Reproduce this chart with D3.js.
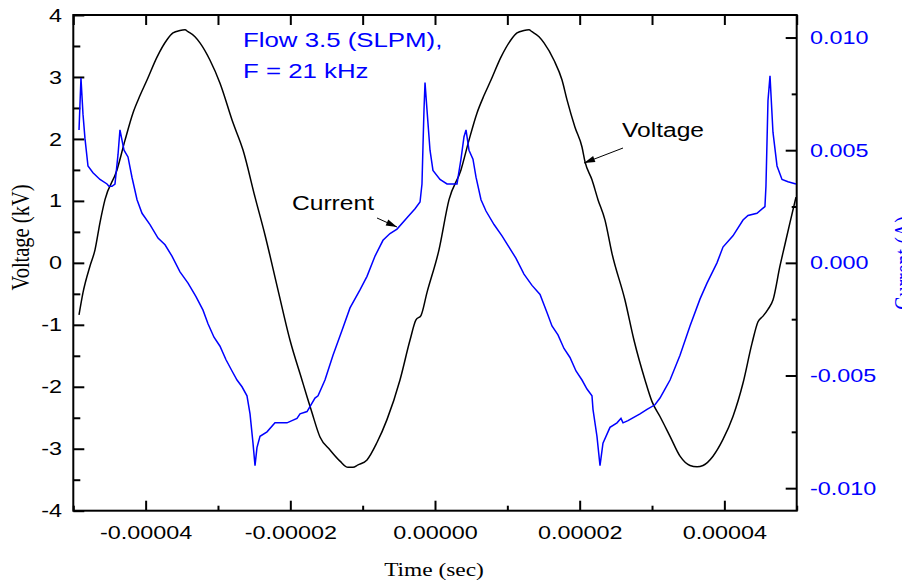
<!DOCTYPE html>
<html>
<head>
<meta charset="utf-8">
<script src="https://cdn.jsdelivr.net/npm/d3@7"></script>
<style>
  body { margin: 0; background: #fff; }
  svg { display: block; }
</style>
</head>
<body>
<svg id="chart" width="902" height="584"></svg>
<script>
// ---- data (time in microseconds) ----
var voltTimeUs = [-49.21, -48.66, -47.69, -47.00, -46.31, -45.62, -43.96, -42.85, -41.75, -40.78,
  -39.81, -38.43, -37.05, -36.22, -35.25, -34.56, -34.14, -33.18, -32.49, -31.10,
  -29.72, -27.92, -26.54, -24.88, -23.50, -21.70, -20.04, -18.39, -17.69, -17.00,
  -15.90, -14.51, -13.13, -12.03, -11.34, -10.64, -9.40, -8.02, -6.64, -4.84,
  -3.46, -2.63, -1.94, -1.11, 0.55, 1.94, 3.59, 4.70, 5.81, 6.77,
  7.74, 9.12, 10.51, 11.34, 12.30, 12.99, 13.41, 14.38, 15.07, 16.45,
  17.56, 18.25, 19.35, 20.32, 20.74, 21.70, 22.53, 23.50, 24.47, 26.26,
  27.51, 29.03, 30.00, 31.10, 32.49, 33.87, 35.25, 36.22, 37.05, 38.43,
  39.81, 41.19, 42.58, 43.82, 44.65, 45.34, 46.03, 46.72, 47.69, 48.38,
  49.07, 49.90];
var voltKV = [-0.84, -0.48, -0.05, 0.21, 0.65, 1.02, 1.50, 1.98, 2.42, 2.70,
  2.95, 3.32, 3.60, 3.71, 3.75, 3.76, 3.73, 3.65, 3.55, 3.27,
  2.90, 2.26, 1.82, 1.06, 0.45, -0.44, -1.25, -1.89, -2.16, -2.42,
  -2.81, -3.02, -3.20, -3.30, -3.30, -3.26, -3.18, -2.90, -2.53, -1.89,
  -1.25, -0.92, -0.85, -0.48, 0.21, 1.02, 1.50, 1.98, 2.42, 2.70,
  2.95, 3.32, 3.60, 3.71, 3.75, 3.76, 3.73, 3.65, 3.55, 3.27,
  2.95, 2.63, 2.19, 1.87, 1.63, 1.34, 1.02, 0.69, 0.15, -0.60,
  -1.25, -1.89, -2.24, -2.48, -2.80, -3.12, -3.27, -3.29, -3.27, -3.12,
  -2.85, -2.48, -1.94, -1.30, -0.95, -0.86, -0.75, -0.60, -0.05, 0.30,
  0.65, 1.06];

var currTimeUs = [-49.21, -49.07, -48.94, -48.66, -48.38, -47.97, -47.28, -46.31, -45.34, -45.07,
  -44.65, -44.24, -43.82, -43.55, -42.99, -42.44, -41.89, -41.19, -40.50, -39.40,
  -38.29, -37.32, -36.36, -35.25, -34.14, -33.04, -32.07, -31.38, -30.55, -29.72,
  -28.89, -28.06, -27.37, -26.68, -25.99, -25.57, -25.16, -24.88, -24.61, -24.19,
  -23.22, -22.12, -21.43, -20.46, -19.77, -19.08, -18.66, -17.69, -16.59, -16.17,
  -15.21, -14.10, -12.86, -11.75, -10.37, -9.40, -8.29, -7.19, -6.22, -5.25,
  -3.87, -2.76, -2.07, -1.80, -1.66, -1.52, -1.38, -1.11, -0.69, -0.28,
  0.69, 1.66, 2.49, 3.04, 3.59, 4.01, 4.29, 4.70, 5.25, 5.67,
  6.36, 7.05, 8.16, 9.26, 10.23, 11.20, 12.30, 13.41, 14.52, 15.48,
  16.17, 17.00, 17.83, 18.66, 19.49, 20.32, 21.01, 21.70, 21.84, 22.39,
  22.81, 23.22, 24.19, 25.16, 25.71, 25.99, 26.68, 27.23, 28.34, 29.31,
  30.41, 31.10, 31.79, 32.49, 33.87, 35.25, 36.64, 37.60, 38.98, 39.81,
  41.19, 42.58, 43.27, 44.51, 45.61, 45.75, 46.03, 46.31, 46.72, 47.28,
  47.97, 48.80, 49.90];
var currA = [0.0059, 0.0071, 0.0082, 0.0066, 0.0055, 0.0043, 0.0040, 0.0037, 0.0035, 0.0034,
  0.0034, 0.0035, 0.0048, 0.0059, 0.0050, 0.0047, 0.0038, 0.0028, 0.0022, 0.0017,
  0.0011, 0.0008, 0.0003, -0.0004, -0.0009, -0.0015, -0.0021, -0.0027, -0.0033, -0.0037,
  -0.0043, -0.0048, -0.0052, -0.0055, -0.0059, -0.0067, -0.0080, -0.0090, -0.0082, -0.0077,
  -0.0075, -0.0071, -0.0071, -0.0071, -0.0070, -0.0069, -0.0067, -0.0066, -0.0060, -0.0059,
  -0.0052, -0.0041, -0.0030, -0.0020, -0.0012, -0.0006, 0.0003, 0.0010, 0.0013, 0.0015,
  0.0020, 0.0024, 0.0027, 0.0035, 0.0052, 0.0068, 0.0080, 0.0068, 0.0050, 0.0041,
  0.0037, 0.0035, 0.0035, 0.0035, 0.0046, 0.0056, 0.0059, 0.0050, 0.0046, 0.0038,
  0.0028, 0.0023, 0.0017, 0.0012, 0.0007, 0.0002, -0.0005, -0.0010, -0.0014, -0.0022,
  -0.0028, -0.0032, -0.0038, -0.0042, -0.0048, -0.0052, -0.0056, -0.0059, -0.0065, -0.0077,
  -0.0090, -0.0080, -0.0073, -0.0071, -0.0069, -0.0071, -0.0070, -0.0069, -0.0067, -0.0065,
  -0.0063, -0.0060, -0.0056, -0.0052, -0.0041, -0.0028, -0.0016, -0.0009, 0.0000, 0.0007,
  0.0012, 0.0019, 0.0021, 0.0022, 0.0025, 0.0034, 0.0072, 0.0083, 0.0058, 0.0043,
  0.0037, 0.0036, 0.0035];

var timeTicks = [-0.00004, -0.00002, 0, 0.00002, 0.00004];
var timeTickLabels = ["-0.00004", "-0.00002", "0.00000", "0.00002", "0.00004"];
var voltTicks = [-4, -3, -2, -1, 0, 1, 2, 3, 4];
var voltTickLabels = ["-4", "-3", "-2", "-1", "0", "1", "2", "3", "4"];
var currTicks = [-0.010, -0.005, 0, 0.005, 0.010];
var currTickLabels = ["-0.010", "-0.005", "0.000", "0.005", "0.010"];
var titleLines = ["Flow 3.5 (SLPM),", "F = 21 kHz"];

(function() {
// ---- layout ----
var svg = d3.select("#chart");
var pLeft = 73.3, pRight = 796.7, pTop = 15, pBottom = 510.7;
var SX = 1.23;   // the picture's text is a bit wide
var sans = "Arial, 'Liberation Sans', sans-serif";
var serif = "'Times New Roman', 'Liberation Serif', serif";
var blue = "#0000ff";

var x = d3.scaleLinear().domain([-5e-5, 5e-5]).range([pLeft, pRight]);
var yV = d3.scaleLinear().domain([-4, 4]).range([pBottom, pTop]);
var yI = d3.scaleLinear().domain([-0.011, 0.011]).range([pBottom, pTop]);

function label(g, px, py, str, size, fam, color, anchor, rot) {
  return g.append("text")
    .attr("transform", "translate(" + px + "," + py + ") scale(" + SX + ",1)" + (rot ? " rotate(" + rot + ")" : ""))
    .attr("text-anchor", anchor || "start")
    .style("font-family", fam).style("font-size", size + "px")
    .attr("fill", color || "#000")
    .text(str);
}

function styleAxis(g, color, size) {
  g.select(".domain").remove();
  g.selectAll("line").attr("stroke", "#000").attr("stroke-width", 2);
  g.selectAll("text")
    .attr("fill", color)
    .style("font-family", sans).style("font-size", size + "px")
    .attr("transform", "scale(" + SX + ",1)");
}

// minor ticks
var timeMinor = [-0.00005, -0.00003, -0.00001, 0.00001, 0.00003, 0.00005];
var voltMinor = d3.range(-3.5, 4, 1);
var currMinor = [-0.0075, -0.0025, 0.0025, 0.0075];

// bottom axis
var gb = svg.append("g").attr("transform", "translate(0," + pBottom + ")")
  .call(d3.axisBottom(x).tickValues(timeTicks).tickSize(-10).tickPadding(14.8)
    .tickFormat(function(d, i) { return timeTickLabels[i]; }));
styleAxis(gb, "#000", 19);
var gbm = svg.append("g").attr("transform", "translate(0," + pBottom + ")")
  .call(d3.axisBottom(x).tickValues(timeMinor).tickSize(-5).tickFormat(""));
styleAxis(gbm, "#000", 19);

// top ticks
var gt = svg.append("g").attr("transform", "translate(0," + pTop + ")")
  .call(d3.axisTop(x).tickValues(timeTicks.concat(timeMinor)).tickSize(-10).tickFormat(""));
styleAxis(gt, "#000", 19);

// left axis (voltage)
var gl = svg.append("g").attr("transform", "translate(" + pLeft + ",0)")
  .call(d3.axisLeft(yV).tickValues(voltTicks).tickSize(-11).tickPadding(9.2)
    .tickFormat(function(d, i) { return voltTickLabels[i]; }));
styleAxis(gl, "#000", 19);
var glm = svg.append("g").attr("transform", "translate(" + pLeft + ",0)")
  .call(d3.axisLeft(yV).tickValues(voltMinor).tickSize(-7).tickFormat(""));
styleAxis(glm, "#000", 19);

// right axis (current)
var gr = svg.append("g").attr("transform", "translate(" + pRight + ",0)")
  .call(d3.axisRight(yI).tickValues(currTicks).tickSize(-11).tickPadding(10.8)
    .tickFormat(function(d, i) { return currTickLabels[i]; }));
styleAxis(gr, blue, 19);
var grm = svg.append("g").attr("transform", "translate(" + pRight + ",0)")
  .call(d3.axisRight(yI).tickValues(currMinor).tickSize(-5).tickFormat(""));
styleAxis(grm, blue, 19);

// frame
svg.append("rect")
  .attr("x", pLeft).attr("y", pTop)
  .attr("width", pRight - pLeft).attr("height", pBottom - pTop)
  .attr("fill", "none").attr("stroke", "#000").attr("stroke-width", 2);

// curves
var voltData = voltTimeUs.map(function(t, i) { return [t * 1e-6, voltKV[i]]; });
var currData = currTimeUs.map(function(t, i) { return [t * 1e-6, currA[i]]; });

svg.append("path").datum(voltData)
  .attr("fill", "none").attr("stroke", "#000").attr("stroke-width", 1.5)
  .attr("d", d3.line().curve(d3.curveMonotoneX)
    .x(function(d) { return x(d[0]); }).y(function(d) { return yV(d[1]); }));

svg.append("path").datum(currData)
  .attr("fill", "none").attr("stroke", blue).attr("stroke-width", 1.5)
  .attr("d", d3.line().x(function(d) { return x(d[0]); }).y(function(d) { return yI(d[1]); }));

// axis titles
label(svg, 434, 576, "Time (sec)", 19, serif, "#000", "middle");
label(svg, 29, 237.5, "Voltage (kV)", 20.5, serif, "#000", "middle", -90);
label(svg, 912, 263, "Current (A)", 20, serif, blue, "middle", -90);

// title
label(svg, 243, 47, titleLines[0], 21, sans, blue);
label(svg, 243, 78, titleLines[1], 21, sans, blue);

// annotations with arrows
function arrow(x1, y1, x2, y2) {
  var a = Math.atan2(y2 - y1, x2 - x1), L = 11, W = 3.2;
  svg.append("line").attr("x1", x1).attr("y1", y1).attr("x2", x2).attr("y2", y2)
    .attr("stroke", "#000").attr("stroke-width", 1);
  var bx = x2 - L * Math.cos(a), by = y2 - L * Math.sin(a);
  var px = -Math.sin(a) * W, py = Math.cos(a) * W;
  svg.append("path")
    .attr("d", "M" + x2 + "," + y2 + "L" + (bx + px) + "," + (by + py) + "L" + (bx - px) + "," + (by - py) + "Z")
    .attr("fill", "#000");
}
label(svg, 292, 210, "Current", 20, sans, "#000");
arrow(377, 218, 397, 227);
label(svg, 622, 136.7, "Voltage", 20, sans, "#000");
arrow(623, 148, 584, 163);
})();
</script>
</body>
</html>
